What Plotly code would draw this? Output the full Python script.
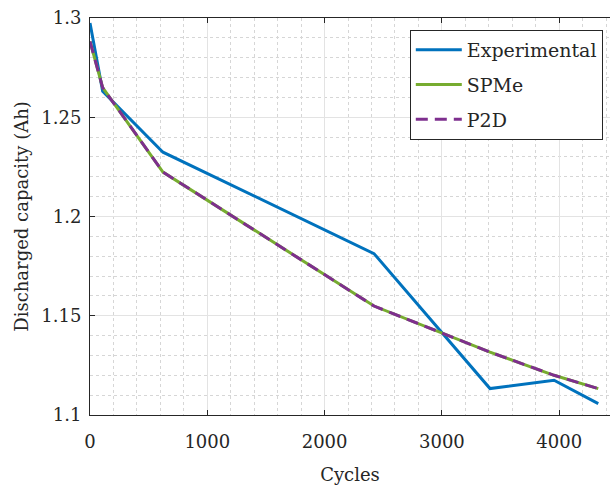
import plotly.graph_objects as go

cycles = [0, 108, 622, 2421, 3410, 3956, 4333]
experimental = [1.2975, 1.2631, 1.2324, 1.1813, 1.1133, 1.1175, 1.1057]
spme = [1.2882, 1.2649, 1.2224, 1.1549, 1.1317, 1.1200, 1.1133]
p2d = [1.2882, 1.2649, 1.2224, 1.1549, 1.1317, 1.1200, 1.1133]

x_ticks = [0, 1000, 2000, 3000, 4000]
y_ticks = [1.1, 1.15, 1.2, 1.25, 1.3]

FONT = "DejaVu Serif"
TXT = "#262626"
FS = 18

fig = go.Figure()
fig.add_trace(go.Scatter(x=cycles, y=experimental, mode="lines", name="Experimental",
                         legendgroup="a", line=dict(color="#0072BD", width=3)))
fig.add_trace(go.Scatter(x=cycles, y=spme, mode="lines", name="SPMe",
                         legendgroup="b", line=dict(color="#77AC30", width=3)))
fig.add_trace(go.Scatter(x=cycles, y=p2d, mode="lines", name="P2D",
                         legendgroup="c", line=dict(color="#7E2F8E", width=3, dash="12px,7px")))

fig.update_layout(
    width=610, height=487,
    margin=dict(l=90, r=0, t=18, b=72),
    paper_bgcolor="white", plot_bgcolor="white",
    font=dict(family=FONT, size=FS, color=TXT),
    legend=dict(x=0.615, y=0.97, xanchor="left", yanchor="top",
                bgcolor="white", bordercolor=TXT, borderwidth=1,
                font=dict(family=FONT, size=19, color=TXT),
                tracegroupgap=7, itemwidth=46),
    xaxis=dict(range=[0, 4433], tickvals=x_ticks, ticktext=[str(v) for v in x_ticks],
               showline=True, linecolor=TXT, linewidth=1, mirror="ticks",
               ticks="inside", ticklen=5, tickcolor=TXT,
               showgrid=True, gridcolor="#e3e3e3", gridwidth=1, zeroline=False,
               minor=dict(dtick=200, showgrid=True, gridcolor="#d6d6d6", griddash="dot",
                          gridwidth=1, ticks=""),
               ticklabelstandoff=10,
               title=dict(text="Cycles", standoff=17, font=dict(size=FS)),
               tickfont=dict(size=FS)),
    yaxis=dict(range=[1.1, 1.3], tickvals=y_ticks, ticktext=["1.1", "1.15", "1.2", "1.25", "1.3"],
               showline=True, linecolor=TXT, linewidth=1, mirror=False,
               ticks="inside", ticklen=5, tickcolor=TXT,
               showgrid=True, gridcolor="#e3e3e3", gridwidth=1, zeroline=False,
               minor=dict(dtick=0.01, showgrid=True, gridcolor="#d6d6d6", griddash="dot",
                          gridwidth=1, ticks=""),
               ticklabelstandoff=4,
               title=dict(text="Discharged capacity (Ah)", standoff=8, font=dict(size=FS)),
               tickfont=dict(size=FS)),
)

fig.write_html("out.html")
